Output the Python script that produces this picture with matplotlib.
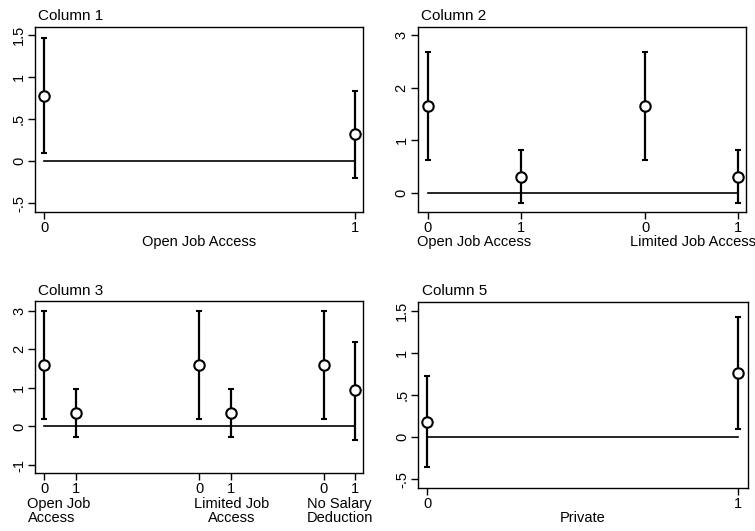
import matplotlib
matplotlib.use("Agg")
import matplotlib.pyplot as plt
import matplotlib.transforms as mtrans

plt.rcParams['font.family'] = ['Liberation Sans', 'DejaVu Sans']

# ---- data ----
c1_pos = [0, 1]
c1_ticks = ['0', '1']
c1_est = [0.78, 0.32]
c1_lo = [0.10, -0.20]
c1_hi = [1.46, 0.84]

c2_pos = [0, 1, 2.34, 3.34]
c2_ticks = ['0', '1', '0', '1']
c2_est = [1.65, 0.30, 1.65, 0.30]
c2_lo = [0.63, -0.20, 0.63, -0.20]
c2_hi = [2.67, 0.81, 2.67, 0.81]
c2_groups = ['Open Job Access', 'Limited Job Access']

c3_pos = [0, 1, 4.94, 5.95, 8.9, 9.9]
c3_ticks = ['0', '1', '0', '1', '0', '1']
c3_est = [1.59, 0.34, 1.59, 0.34, 1.59, 0.94]
c3_lo = [0.20, -0.28, 0.20, -0.28, 0.20, -0.34]
c3_hi = [3.00, 0.96, 3.00, 0.96, 3.00, 2.20]
c3_groups = ['Open Job\nAccess', 'Limited Job\nAccess', 'No Salary\nDeduction']

c5_pos = [0, 1]
c5_ticks = ['0', '1']
c5_est = [0.18, 0.76]
c5_lo = [-0.36, 0.10]
c5_hi = [0.72, 1.42]

yt_half = [-0.5, 0, 0.5, 1, 1.5]
yt_half_lab = ['-.5', '0', '.5', '1', '1.5']

FS = 10.5

fig = plt.figure(figsize=(7.55, 5.31), dpi=100)

def panel(rect, title, pos, ticks, est, lo, hi, xlim, ylim, yt, ytl):
    ax = fig.add_axes(rect)
    ax.set_xlim(*xlim)
    ax.set_ylim(*ylim)
    ax.plot([pos[0], pos[-1]], [0, 0], color='black', lw=1.2, zorder=1)
    yerr = [[e - l for e, l in zip(est, lo)], [h - e for e, h in zip(est, hi)]]
    cont = ax.errorbar(pos, est, yerr=yerr, fmt='o', mfc='white', mec='black', mew=1.5,
                       ms=7.5, ecolor='black', elinewidth=1.6, capsize=2.5, capthick=1.6,
                       zorder=3)
    for art in cont.get_children():
        art.set_clip_on(False)
    ax.set_xticks(pos)
    ax.set_xticklabels(ticks)
    ax.set_yticks(yt)
    ax.set_yticklabels(ytl, rotation=90, va='center')
    ax.tick_params(direction='out', length=5, width=1, labelsize=FS, pad=1.5, colors='black')
    for s in ax.spines.values():
        s.set_linewidth(1.0)
    off = mtrans.offset_copy(ax.transAxes, fig=fig, x=3.4, y=3.5, units='dots')
    ax.text(0, 1, title, transform=off, ha='left', va='bottom', fontsize=11)
    return ax

ax1 = panel([0.0464, 0.6002, 0.4348, 0.3495], 'Column 1', c1_pos, c1_ticks, c1_est, c1_lo, c1_hi,
            (-0.03, 1.026), (-0.61, 1.60), yt_half, yt_half_lab)
ax1.set_xlabel('Open Job Access', fontsize=FS, labelpad=0)

ax2 = panel([0.5532, 0.6013, 0.4355, 0.3484], 'Column 2', c2_pos, c2_ticks, c2_est, c2_lo, c2_hi,
            (-0.108, 3.43), (-0.36, 3.16), [0, 1, 2, 3], ['0', '1', '2', '3'])
tr2 = mtrans.blended_transform_factory(ax2.transData, ax2.transAxes)
ax2.text((c2_pos[0] + c2_pos[1]) / 2, -0.124, c2_groups[0], transform=tr2, ha='center', va='top', fontsize=FS)
ax2.text(2.85, -0.124, c2_groups[1], transform=tr2, ha='center', va='top', fontsize=FS)

ax3 = panel([0.0464, 0.1086, 0.4348, 0.3245], 'Column 3', c3_pos, c3_ticks, c3_est, c3_lo, c3_hi,
            (-0.30, 10.16), (-1.215, 3.25), [-1, 0, 1, 2, 3], ['-1', '0', '1', '2', '3'])
tr3 = mtrans.blended_transform_factory(ax3.transData, ax3.transAxes)
ax3.text(-0.54, -0.14, c3_groups[0], transform=tr3, ha='left', va='top', fontsize=FS,
         multialignment='left', linespacing=0.95)
ax3.text(5.97, -0.14, c3_groups[1], transform=tr3, ha='center', va='top', fontsize=FS,
         multialignment='center', linespacing=0.95)
ax3.text(9.4, -0.14, c3_groups[2], transform=tr3, ha='center', va='top', fontsize=FS,
         multialignment='center', linespacing=0.95)

ax4 = panel([0.5540, 0.0815, 0.4363, 0.3503], 'Column 5', c5_pos, c5_ticks, c5_est, c5_lo, c5_hi,
            (-0.029, 1.030), (-0.603, 1.607), yt_half, yt_half_lab)
ax4.set_xlabel('Private', fontsize=FS, labelpad=0)

fig.savefig('out.png', dpi=100)
